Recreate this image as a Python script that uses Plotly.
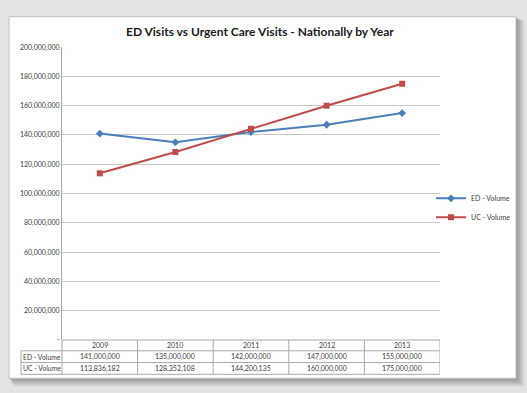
import plotly.graph_objects as go

years = ["2009", "2010", "2011", "2012", "2013"]
ed_volume = [141000000, 135000000, 142000000, 147000000, 155000000]
uc_volume = [113836182, 128352108, 144200135, 160000000, 175000000]
series_names = ["ED - Volume", "UC - Volume"]
y_tick_vals = [0, 20000000, 40000000, 60000000, 80000000, 100000000, 120000000,
               140000000, 160000000, 180000000, 200000000]

W, H = 527, 393
def px(x):
    return x / W
def py(y):
    return 1 - y / H

FONT = "Lato, 'Open Sans', sans-serif"
ED_COLOR = "#4a7ebb"
UC_COLOR = "#be4b48"
GRID = "#c6c6c6"
LINE = "#a8a8a8"

xi = list(range(len(years)))

fig = go.Figure()
fig.add_trace(go.Scatter(x=xi, y=ed_volume, name=series_names[0], mode="lines+markers",
                         line=dict(color=ED_COLOR, width=2),
                         marker=dict(symbol="diamond", size=6, color=ED_COLOR)))
fig.add_trace(go.Scatter(x=xi, y=uc_volume, name=series_names[1], mode="lines+markers",
                         line=dict(color=UC_COLOR, width=2),
                         marker=dict(symbol="square", size=6, color=UC_COLOR)))

def fmt(v):
    return "-" if v == 0 else f"{v:,}"

plot_left, plot_right, plot_top, plot_bottom = 62, 440, 43, 342
row_edges = [342, 353, 365, 377]

shapes = []
# soft shadow around the white panel
for off, op in [(8, 0.18), (6, 0.22), (4, 0.28), (2, 0.35)]:
    shapes.append(dict(type="rect", xref="paper", yref="paper", x0=px(9 + off / 2), x1=px(516 + off),
                       y0=py(381 + off), y1=py(12 + off / 2),
                       fillcolor="#808080", line=dict(width=0), layer="below", opacity=op))
shapes.append(dict(type="rect", xref="paper", yref="paper", x0=px(9), x1=px(516), y0=py(381), y1=py(12),
                   fillcolor="white", line=dict(color="#c0c0c0", width=1), layer="below"))
shapes.append(dict(type="line", xref="paper", yref="paper", x0=px(plot_left), x1=px(plot_right),
                   y0=py(row_edges[0]), y1=py(row_edges[0]), line=dict(color=LINE, width=1)))
for ry in row_edges[1:]:
    shapes.append(dict(type="line", xref="paper", yref="paper", x0=px(21), x1=px(plot_right),
                       y0=py(ry), y1=py(ry), line=dict(color=LINE, width=1)))
shapes.append(dict(type="line", xref="paper", yref="paper", x0=px(21), x1=px(21),
                   y0=py(row_edges[1]), y1=py(row_edges[3]), line=dict(color=LINE, width=1)))
shapes.append(dict(type="line", xref="paper", yref="paper", x0=px(plot_left), x1=px(plot_left),
                   y0=py(row_edges[0]), y1=py(row_edges[3]), line=dict(color=LINE, width=1)))
for i in range(1, len(years) + 1):
    shapes.append(dict(type="line", xref="x", yref="paper", x0=i - 0.5, x1=i - 0.5,
                       y0=py(row_edges[0]), y1=py(row_edges[3]), line=dict(color=LINE, width=1)))

annotations = []
annotations.append(dict(text="<b>ED Visits vs Urgent Care Visits - Nationally by Year</b>",
                        xref="paper", yref="paper", x=px(260), y=py(27), showarrow=False,
                        font=dict(family=FONT, size=12, color="#1a1a1a"), xanchor="center", yanchor="middle"))
def row_center(a, b):
    return py((row_edges[a] + row_edges[b]) / 2)
tfont = dict(family=FONT, size=7, color="#404040")
lfont = dict(family=FONT, size=6.8, color="#404040")
for i, yr in enumerate(years):
    annotations.append(dict(text=yr, xref="x", yref="paper", x=i, y=row_center(0, 1),
                            showarrow=False, font=tfont, xanchor="center", yanchor="middle"))
    annotations.append(dict(text=fmt(ed_volume[i]), xref="x", yref="paper", x=i, y=row_center(1, 2),
                            showarrow=False, font=tfont, xanchor="center", yanchor="middle"))
    annotations.append(dict(text=fmt(uc_volume[i]), xref="x", yref="paper", x=i, y=row_center(2, 3),
                            showarrow=False, font=tfont, xanchor="center", yanchor="middle"))
for k, name in enumerate(series_names):
    annotations.append(dict(text=name, xref="paper", yref="paper", x=px(21), y=row_center(1 + k, 2 + k),
                            showarrow=False, font=lfont, xanchor="left", yanchor="middle"))

fig.update_layout(
    width=W, height=H,
    margin=dict(l=0, r=0, t=0, b=0),
    paper_bgcolor="#e3e3e3",
    plot_bgcolor="rgba(0,0,0,0)",
    shapes=shapes,
    annotations=annotations,
    showlegend=True,
    legend=dict(x=px(431), y=py(207), xanchor="left", yanchor="middle",
                font=dict(family=FONT, size=7, color="#404040"),
                bgcolor="rgba(0,0,0,0)", itemwidth=30, tracegroupgap=2),
    xaxis=dict(domain=[px(plot_left), px(plot_right)], range=[-0.5, len(years) - 0.5],
               showticklabels=False, showgrid=False, zeroline=False, ticks="",
               fixedrange=True),
    yaxis=dict(domain=[py(plot_bottom), py(plot_top)], range=[0, 200000000],
               tickvals=y_tick_vals, ticktext=[fmt(v) for v in y_tick_vals],
               tickfont=dict(family=FONT, size=7, color="#404040"),
               showgrid=True, gridcolor=GRID, gridwidth=1, zeroline=False,
               showline=True, linecolor=LINE, linewidth=1, ticks="", ticklen=0,
               fixedrange=True),
)

fig.write_html("out.html", config={"displayModeBar": False},
               post_script="document.body.style.margin='0';document.body.style.overflow='hidden';")
